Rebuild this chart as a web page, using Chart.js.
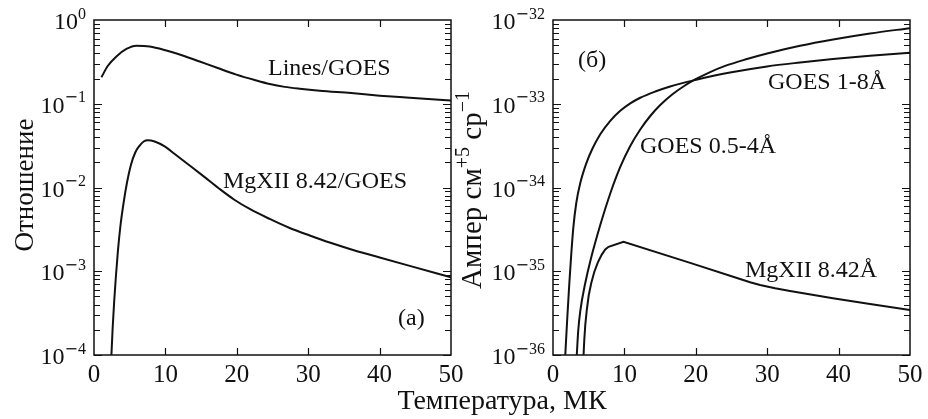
<!DOCTYPE html>
<html>
<head>
<meta charset="utf-8">
<script src="https://cdn.jsdelivr.net/npm/chart.js@4.4.1/dist/chart.umd.min.js"></script>
<style>
  body { margin: 0; background: #fff; }
  #wrap { position: relative; width: 928px; height: 419px; overflow: hidden; }
  canvas { position: absolute; top: 0; }
  #left { left: 0; }
  #right { left: 440px; }
  #xtitle { position: absolute; left: 302px; width: 400px; top: 384px; line-height: 28px;
            text-align: center; font: 28px "Liberation Serif", serif; color: #111; white-space: nowrap; }
</style>
</head>
<body>
<div id="wrap">
  <canvas id="left" width="464" height="419"></canvas>
  <canvas id="right" width="488" height="419"></canvas>
  <div id="xtitle">Температура, МК</div>
</div>
<script>
// panel (a): ratios vs temperature, MK
var tempLines = [1.04, 1.92, 3.14, 4.54, 5.94, 7.8, 10.14, 12.42, 14.8, 17.33, 19.94, 22.51, 24.61, 26.71,
                 28.81, 31.61, 36.01, 40.01, 44.22, 50];
var ratioLines = [0.207, 0.282, 0.367, 0.451, 0.493, 0.483, 0.432, 0.377, 0.319, 0.267, 0.223, 0.192, 0.172,
                  0.159, 0.151, 0.143, 0.134, 0.125, 0.118, 0.109];

var tempMgRatio = [2.44, 2.62, 2.83, 3.07, 3.35, 3.7, 4.12, 4.61, 5.17, 5.78, 6.4, 6.96, 7.52, 8.5, 9.9, 11.3,
                   13.4, 15.5, 17.6, 19.71, 21.81, 24.61, 27.41, 30.21, 33.01, 36.51, 40.01, 44.22, 50];
var ratioMg = [1.0e-4, 2.16e-4, 4.41e-4, 8.78e-4, 1.75e-3, 3.47e-3, 6.35e-3, 0.0113, 0.0186, 0.0262, 0.0317,
               0.0354, 0.0367, 0.0354, 0.0309, 0.0251, 0.0183, 0.0133, 9.59e-3, 7.09e-3, 5.54e-3, 4.21e-3,
               3.28e-3, 2.67e-3, 2.2e-3, 1.77e-3, 1.46e-3, 1.16e-3, 8.47e-4];

// panel (б): fluxes
var tempGoes18 = [1.72, 2.0, 2.28, 2.56, 2.84, 3.26, 3.82, 4.66, 5.5, 6.62, 8.02, 9.42, 10.82, 12.22, 14.32,
                  16.41, 19.91, 24.8, 29.98, 34.6, 39.2, 44.4, 50];
var fluxGoes18 = [1.0e-36, 2.77e-36, 7.05e-36, 1.61e-35, 3.28e-35, 6.53e-35, 1.13e-34, 1.94e-34, 2.88e-34,
                  4.32e-34, 6.25e-34, 8.24e-34, 1.01e-33, 1.18e-33, 1.4e-33, 1.61e-33, 1.92e-33, 2.36e-33,
                  2.79e-33, 3.11e-33, 3.42e-33, 3.74e-33, 4.07e-33];

var tempGoes054 = [3.33, 3.54, 3.82, 4.52, 5.22, 6.62, 8.02, 9.42, 10.82, 12.22, 13.62, 15.02, 16.69, 18.37,
                   19.91, 22.01, 24.11, 26.91, 29.99, 34.6, 39.23, 44.4, 50];
var fluxGoes054 = [1.0e-36, 1.99e-36, 3.35e-36, 7.24e-36, 1.32e-35, 3.56e-35, 8.48e-35, 1.76e-34, 3.13e-34,
                   4.93e-34, 7.14e-34, 9.66e-34, 1.29e-33, 1.63e-33, 1.95e-33, 2.39e-33, 2.83e-33, 3.37e-33,
                   3.98e-33, 4.92e-33, 5.85e-33, 6.9e-33, 8.0e-33];

var tempMg = [4.28, 4.38, 4.52, 4.73, 5.01, 5.36, 5.78, 6.27, 6.83, 7.32, 7.78, 9.88, 19.21, 26.2, 27.6, 29.0,
              31.1, 33.2, 39.2, 44.4, 50];
var fluxMg = [1.0e-36, 1.51e-36, 2.28e-36, 3.44e-36, 5.2e-36, 7.24e-36, 9.8e-36, 1.27e-35, 1.58e-35, 1.82e-35,
              1.96e-35, 2.25e-35, 1.26e-35, 8.07e-36, 7.38e-36, 6.85e-36, 6.25e-36, 5.81e-36, 4.75e-36,
              4.06e-36, 3.44e-36];

var xTicks = [0, 10, 20, 30, 40, 50];

var ink = '#111';
var serif = '"Liberation Serif", serif';

function pts(xs, ys) {
    return xs.map(function (t, i) { return { x: t, y: ys[i] }; });
}

function line(xs, ys, smooth) {
    return {
        data: pts(xs, ys),
        borderColor: ink,
        borderWidth: 2,
        pointRadius: 0,
        fill: false,
        tension: 0,
        cubicInterpolationMode: smooth ? 'monotone' : 'default'
    };
}

// draws "10" with a raised exponent, right-aligned at xr
function drawPow(ctx, e, xr, y) {
    var digits = String(Math.abs(e));
    ctx.font = '16px ' + serif;
    var wd = ctx.measureText(digits).width;
    ctx.font = '16px "DejaVu Sans"';
    var wm = e < 0 ? ctx.measureText('\u2212').width : 0;
    ctx.font = '24px ' + serif;
    var w10 = ctx.measureText('10').width;
    var x0 = xr - wd - wm - w10;
    ctx.textAlign = 'left';
    ctx.textBaseline = 'alphabetic';
    ctx.fillText('10', x0, y + 9);
    if (e < 0) {
        ctx.font = '16px "DejaVu Sans"';
        ctx.fillText('\u2212', x0 + w10, y - 1.5);
    }
    ctx.font = '16px ' + serif;
    ctx.fillText(digits, x0 + w10 + wm, y - 1.5);
}

// rotated title made of [text, isSuperscript] pieces
function drawTitle(ctx, pieces, cx, cy, size) {
    var sup = Math.round(size * 0.68);
    ctx.save();
    ctx.translate(cx, cy);
    ctx.rotate(-Math.PI / 2);
    ctx.textAlign = 'left';
    ctx.textBaseline = 'alphabetic';
    var total = 0;
    pieces.forEach(function (p) {
        ctx.font = (p[1] ? sup : size) + 'px ' + serif;
        total += ctx.measureText(p[0]).width;
    });
    var x = -total / 2;
    pieces.forEach(function (p) {
        ctx.font = (p[1] ? sup : size) + 'px ' + serif;
        ctx.fillText(p[0], x, p[1] ? -size * 0.42 : 0);
        x += ctx.measureText(p[0]).width;
    });
    ctx.restore();
}

function framePlugin(cfg) {
    return {
        id: 'frame',
        afterDatasetsDraw: function (chart) {
            var ctx = chart.ctx, a = chart.chartArea;
            var xs = chart.scales.x, ys = chart.scales.y;
            ctx.save();
            ctx.strokeStyle = ink;
            ctx.fillStyle = ink;
            ctx.lineWidth = 1.5;
            ctx.strokeRect(a.left, a.top, a.right - a.left, a.bottom - a.top);

            ctx.beginPath();
            xTicks.forEach(function (v) {
                var px = Math.round(xs.getPixelForValue(v)) + 0.5;
                if (v > xs.min && v < xs.max) {
                    ctx.moveTo(px, a.bottom); ctx.lineTo(px, a.bottom - 7);
                    ctx.moveTo(px, a.top); ctx.lineTo(px, a.top + 7);
                }
            });
            for (var e = cfg.lo; e < cfg.hi; e++) {
                for (var m = 1; m <= 9; m++) {
                    var py = Math.round(ys.getPixelForValue(m * Math.pow(10, e))) + 0.5;
                    var len = m === 1 ? 8 : 6;
                    ctx.moveTo(a.left, py); ctx.lineTo(a.left + len, py);
                    ctx.moveTo(a.right, py); ctx.lineTo(a.right - len, py);
                }
            }
            ctx.lineWidth = 1.2;
            ctx.stroke();

            // x tick labels
            ctx.font = '25px ' + serif;
            ctx.textAlign = 'center';
            ctx.textBaseline = 'alphabetic';
            xTicks.forEach(function (v) {
                ctx.fillText(String(v), xs.getPixelForValue(v), a.bottom + 27);
            });
            // y tick labels
            for (var k = cfg.lo; k <= cfg.hi; k++) {
                drawPow(ctx, k, a.left - 8, ys.getPixelForValue(Math.pow(10, k)));
            }

            // curve labels
            ctx.font = '24px ' + serif;
            ctx.textAlign = 'left';
            cfg.notes.forEach(function (n) { ctx.fillText(n[0], n[1], n[2]); });

            drawTitle(ctx, cfg.title, cfg.titleX, cfg.titleY, cfg.titleSize);
            ctx.restore();
        }
    };
}

function makeChart(id, datasets, lo, hi, padding, cfg) {
    cfg.lo = lo; cfg.hi = hi;
    return new Chart(document.getElementById(id), {
        type: 'line',
        data: { datasets: datasets },
        options: {
            responsive: false,
            animation: false,
            events: [],
            layout: { padding: padding },
            plugins: { legend: { display: false }, tooltip: { enabled: false } },
            scales: {
                x: { type: 'linear', min: 0, max: 50, display: false },
                y: { type: 'logarithmic', min: Math.pow(10, lo), max: Math.pow(10, hi), display: false }
            }
        },
        plugins: [framePlugin(cfg)]
    });
}

makeChart('left', [
    line(tempLines, ratioLines, true),
    line(tempMgRatio, ratioMg, true)
], -4, 0, { left: 94, right: 13, top: 20, bottom: 64 }, {
    notes: [['Lines/GOES', 268, 75], ['MgXII 8.42/GOES', 223, 188], ['(a)', 398, 325]],
    title: [['Отношение', false]],
    titleX: 33, titleY: 185, titleSize: 27
});

makeChart('right', [
    line(tempGoes18, fluxGoes18, true),
    line(tempGoes054, fluxGoes054, true),
    line(tempMg, fluxMg, false)
], -36, -32, { left: 113, right: 18, top: 20, bottom: 64 }, {
    notes: [['(б)', 138, 67], ['GOES 1-8Å', 328, 89], ['GOES 0.5-4Å', 200, 152.5], ['MgXII 8.42Å', 305, 277]],
    title: [['Ампер см', false], ['+5', true], [' ср', false], ['\u22121', true]],
    titleX: 41, titleY: 190, titleSize: 29
});
</script>
</body>
</html>
